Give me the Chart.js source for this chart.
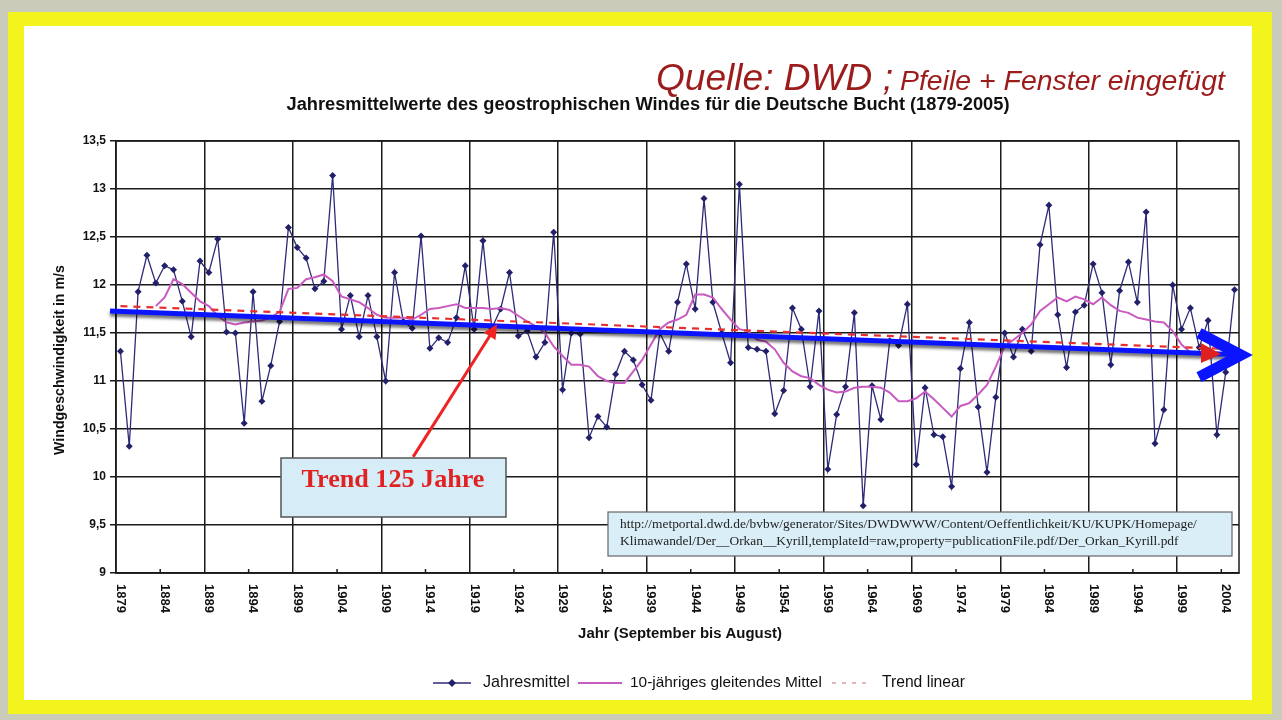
<!DOCTYPE html>
<html>
<head>
<meta charset="utf-8">
<script src="https://cdn.jsdelivr.net/npm/chart.js@4.4.1/dist/chart.umd.min.js"></script>
<style>
  html, body { margin: 0; padding: 0; background: #fff; overflow: hidden; }
  canvas { display: block; }
</style>
</head>
<body>
<canvas id="windChart" width="1282" height="720"></canvas>
<script>
// Jahre (September bis August)
const years = [
  1879, 1880, 1881, 1882, 1883, 1884, 1885, 1886, 1887, 1888,
  1889, 1890, 1891, 1892, 1893, 1894, 1895, 1896, 1897, 1898,
  1899, 1900, 1901, 1902, 1903, 1904, 1905, 1906, 1907, 1908,
  1909, 1910, 1911, 1912, 1913, 1914, 1915, 1916, 1917, 1918,
  1919, 1920, 1921, 1922, 1923, 1924, 1925, 1926, 1927, 1928,
  1929, 1930, 1931, 1932, 1933, 1934, 1935, 1936, 1937, 1938,
  1939, 1940, 1941, 1942, 1943, 1944, 1945, 1946, 1947, 1948,
  1949, 1950, 1951, 1952, 1953, 1954, 1955, 1956, 1957, 1958,
  1959, 1960, 1961, 1962, 1963, 1964, 1965, 1966, 1967, 1968,
  1969, 1970, 1971, 1972, 1973, 1974, 1975, 1976, 1977, 1978,
  1979, 1980, 1981, 1982, 1983, 1984, 1985, 1986, 1987, 1988,
  1989, 1990, 1991, 1992, 1993, 1994, 1995, 1996, 1997, 1998,
  1999, 2000, 2001, 2002, 2003, 2004, 2005
];

// Jahresmittel in m/s
const annualMean = [
  11.31, 10.32, 11.93, 12.31, 12.02, 12.20, 12.16, 11.83, 11.46, 12.25,
  12.13, 12.48, 11.51, 11.50, 10.56, 11.93, 10.79, 11.16, 11.62, 12.60,
  12.39, 12.28, 11.96, 12.04, 13.14, 11.54, 11.89, 11.46, 11.89, 11.46,
  11.00, 12.13, 11.62, 11.55, 12.51, 11.34, 11.45, 11.40, 11.66, 12.20,
  11.54, 12.46, 11.55, 11.75, 12.13, 11.47, 11.52, 11.25, 11.40, 12.55,
  10.91, 11.50, 11.49, 10.41, 10.63, 10.52, 11.07, 11.31, 11.22, 10.96,
  10.80, 11.50, 11.31, 11.82, 12.22, 11.75, 12.90, 11.82, 11.50, 11.19,
  13.05, 11.35, 11.33, 11.31, 10.66, 10.90, 11.76, 11.54, 10.94, 11.73,
  10.08, 10.65, 10.94, 11.71, 9.70, 10.95, 10.60, 11.42, 11.37, 11.80,
  10.13, 10.93, 10.44, 10.42, 9.90, 11.13, 11.61, 10.73, 10.05, 10.83,
  11.50, 11.25, 11.54, 11.31, 12.42, 12.83, 11.69, 11.14, 11.72, 11.79,
  12.22, 11.92, 11.17, 11.94, 12.24, 11.82, 12.76, 10.35, 10.70, 12.00,
  11.54, 11.76, 11.35, 11.63, 10.44, 11.09, 11.95
];

// 10-jähriges gleitendes Mittel
const movingMean = [
  null, null, null, null, 11.78, 11.87, 12.06, 12.01, 11.92, 11.83,
  11.78, 11.68, 11.61, 11.59, 11.61, 11.62, 11.63, 11.66, 11.72, 11.96,
  11.97, 12.06, 12.08, 12.11, 12.04, 11.88, 11.85, 11.82, 11.76, 11.69,
  11.66, 11.66, 11.66, 11.64, 11.69, 11.75, 11.76, 11.78, 11.80, 11.76,
  11.76, 11.76, 11.75, 11.76, 11.74, 11.68, 11.62, 11.57, 11.50, 11.36,
  11.26, 11.17, 11.17, 11.15, 11.05, 11.00, 10.98, 10.98, 11.10, 11.22,
  11.38, 11.54, 11.61, 11.64, 11.69, 11.90, 11.90, 11.87, 11.75, 11.64,
  11.54, 11.52, 11.43, 11.41, 11.33, 11.19, 11.10, 11.05, 11.03, 10.96,
  10.91, 10.88, 10.89, 10.93, 10.94, 10.94, 10.93, 10.88, 10.79, 10.79,
  10.82, 10.89, 10.81, 10.72, 10.63, 10.74, 10.77, 10.86, 10.96, 11.15,
  11.36, 11.43, 11.50, 11.59, 11.73, 11.80, 11.87, 11.83, 11.88, 11.85,
  11.80, 11.87, 11.79, 11.73, 11.71, 11.66, 11.64, 11.62, 11.61, 11.52,
  11.38, 11.30, null, null, null, null, null
];

// Trend linear: end values only
const trendStart = 11.78;
const trendEnd = 11.33;
const trendLinear = years.map((y, i) => (i === 0 ? trendStart : i === years.length - 1 ? trendEnd : null));

const xTickLabels = ['1879', '1884', '1889', '1894', '1899', '1904', '1909', '1914', '1919', '1924',
  '1929', '1934', '1939', '1944', '1949', '1954', '1959', '1964', '1969', '1974',
  '1979', '1984', '1989', '1994', '1999', '2004'];
const yTicks = [9, 9.5, 10, 10.5, 11, 11.5, 12, 12.5, 13, 13.5];

const SANS = '"Liberation Sans", Arial, sans-serif';
const SERIF = '"Liberation Serif", "Times New Roman", serif';

function fitFont(ctx, text, style, family, target) {
  ctx.font = style + ' 20px ' + family;
  const w = ctx.measureText(text).width;
  ctx.font = style + ' ' + (20 * target / w).toFixed(2) + 'px ' + family;
}

const decor = {
  id: 'decor',
  beforeDraw(chart) {
    const ctx = chart.ctx;
    ctx.save();
    ctx.fillStyle = '#cbcbb9';
    ctx.fillRect(0, 0, chart.width, chart.height);
    ctx.fillStyle = '#f3f31e';
    ctx.fillRect(8, 12, 1264, 702);
    ctx.fillStyle = '#ffffff';
    ctx.fillRect(24, 26, 1228, 674);
    ctx.restore();
  },
  beforeDatasetsDraw(chart) {
    const ctx = chart.ctx, a = chart.chartArea;
    const x = chart.scales.x;
    ctx.save();
    ctx.strokeStyle = '#1a1a1a';
    ctx.lineWidth = 1.5;
    ctx.strokeRect(a.left, a.top, a.right - a.left, a.bottom - a.top);
    // small inner ticks between gridlines
    for (let i = 5; i < years.length; i += 10) {
      const px = (x.getPixelForTick(i) + x.getPixelForTick(i - 1)) / 2;
      ctx.beginPath();
      ctx.moveTo(px, a.bottom);
      ctx.lineTo(px, a.bottom - 4);
      ctx.stroke();
    }
    ctx.restore();
  },
  afterDraw(chart) {
    const ctx = chart.ctx, a = chart.chartArea;
    const xs = chart.scales.x, ys = chart.scales.y;
    ctx.save();

    // x tick labels, rotated clockwise
    ctx.fillStyle = '#111';
    ctx.font = 'bold 13px ' + SANS;
    ctx.textAlign = 'left';
    ctx.textBaseline = 'middle';
    xTickLabels.forEach(lbl => {
      const i = years.indexOf(Number(lbl));
      const px = xs.getPixelForTick(i);
      ctx.save();
      ctx.translate(px, a.bottom + 11);
      ctx.rotate(Math.PI / 2);
      ctx.fillText(lbl, 0, 0);
      ctx.restore();
    });

    // axis titles
    ctx.textAlign = 'center';
    ctx.textBaseline = 'middle';
    fitFont(ctx, 'Jahr (September bis August)', 'bold', SANS, 204);
    ctx.fillText('Jahr (September bis August)', 680, 634);
    ctx.save();
    ctx.translate(60, 360);
    ctx.rotate(-Math.PI / 2);
    fitFont(ctx, 'Windgeschwindigkeit in m/s', 'bold', SANS, 190);
    ctx.fillText('Windgeschwindigkeit in m/s', 0, 0);
    ctx.restore();

    // chart title
    ctx.textBaseline = 'alphabetic';
    const title = 'Jahresmittelwerte des geostrophischen Windes f\u00fcr die Deutsche Bucht (1879-2005)';
    fitFont(ctx, title, 'bold', SANS, 723);
    ctx.fillText(title, 648, 110);

    // source note
    ctx.fillStyle = '#9c1c1c';
    ctx.textAlign = 'left';
    fitFont(ctx, 'Quelle: DWD ;', 'italic', SANS, 237);
    ctx.fillText('Quelle: DWD ;', 656, 90);
    fitFont(ctx, 'Pfeile + Fenster eingef\u00fcgt', 'italic', SANS, 325);
    ctx.fillText('Pfeile + Fenster eingef\u00fcgt', 900, 90);

    // legend
    const ly = 683;
    ctx.lineWidth = 1.5;
    ctx.strokeStyle = '#2e2a78';
    ctx.beginPath(); ctx.moveTo(433, ly); ctx.lineTo(471, ly); ctx.stroke();
    ctx.fillStyle = '#22206a';
    ctx.beginPath();
    ctx.moveTo(452, ly - 4); ctx.lineTo(456, ly); ctx.lineTo(452, ly + 4); ctx.lineTo(448, ly);
    ctx.closePath(); ctx.fill();
    ctx.strokeStyle = '#c85ac0';
    ctx.lineWidth = 2;
    ctx.beginPath(); ctx.moveTo(578, ly); ctx.lineTo(622, ly); ctx.stroke();
    ctx.strokeStyle = '#d8a0a0';
    ctx.lineWidth = 1.5;
    ctx.setLineDash([4, 6]);
    ctx.beginPath(); ctx.moveTo(832, ly); ctx.lineTo(872, ly); ctx.stroke();
    ctx.setLineDash([]);
    ctx.fillStyle = '#111';
    ctx.textBaseline = 'middle';
    fitFont(ctx, 'Jahresmittel', '', SANS, 87);
    ctx.fillText('Jahresmittel', 483, ly);
    fitFont(ctx, '10-j\u00e4hriges gleitendes Mittel', '', SANS, 192);
    ctx.fillText('10-j\u00e4hriges gleitendes Mittel', 630, ly);
    fitFont(ctx, 'Trend linear', '', SANS, 83);
    ctx.fillText('Trend linear', 882, ly);

    // blue arrow over the trend
    const bx0 = a.left - 6, bx1 = a.right + 6;
    const by0 = ys.getPixelForValue(11.73), by1 = ys.getPixelForValue(11.27);
    ctx.save();
    ctx.shadowColor = 'rgba(0,0,0,0.55)';
    ctx.shadowOffsetY = 3;
    ctx.shadowBlur = 3;
    ctx.strokeStyle = '#0a14ff';
    ctx.lineWidth = 5;
    ctx.beginPath();
    ctx.moveTo(bx0, by0);
    ctx.lineTo(bx1 - 6, by1 - (by1 - by0) * 6 / (bx1 - bx0));
    ctx.stroke();
    ctx.restore();
    // red wedge inside the chevron
    ctx.fillStyle = '#e02020';
    ctx.beginPath();
    ctx.moveTo(bx1 - 44, by1 - 12); ctx.lineTo(bx1 - 24, by1 - 1); ctx.lineTo(bx1 - 44, by1 + 8);
    ctx.closePath(); ctx.fill();
    ctx.strokeStyle = '#0a14ff';
    ctx.lineWidth = 11;
    ctx.lineJoin = 'miter';
    ctx.beginPath();
    ctx.moveTo(bx1 - 46, by1 - 22);
    ctx.lineTo(bx1 - 4, by1);
    ctx.lineTo(bx1 - 46, by1 + 22);
    ctx.stroke();

    // red arrow pointing at the trend
    const step = xs.getPixelForTick(1) - xs.getPixelForTick(0);
    const tx = xs.getPixelForTick(0) + step * 42.6;
    const ty = ys.getPixelForValue(11.59);
    const sx = xs.getPixelForTick(0) + step * 33.1;
    const sy = ys.getPixelForValue(10.21);
    const ang = Math.atan2(ty - sy, tx - sx);
    ctx.strokeStyle = '#ee2424';
    ctx.fillStyle = '#ee2424';
    ctx.lineWidth = 3;
    ctx.beginPath();
    ctx.moveTo(sx, sy);
    ctx.lineTo(tx - 10 * Math.cos(ang), ty - 10 * Math.sin(ang));
    ctx.stroke();
    ctx.beginPath();
    ctx.moveTo(tx, ty);
    ctx.lineTo(tx - 14 * Math.cos(ang) + 7 * Math.sin(ang), ty - 14 * Math.sin(ang) - 7 * Math.cos(ang));
    ctx.lineTo(tx - 14 * Math.cos(ang) - 7 * Math.sin(ang), ty - 14 * Math.sin(ang) + 7 * Math.cos(ang));
    ctx.closePath();
    ctx.fill();

    // "Trend 125 Jahre" box
    ctx.fillStyle = '#d6ecf6';
    ctx.fillRect(281, 458, 225, 59);
    ctx.strokeStyle = '#555';
    ctx.lineWidth = 1.5;
    ctx.strokeRect(281, 458, 225, 59);
    ctx.fillStyle = '#e02222';
    ctx.textAlign = 'center';
    ctx.textBaseline = 'alphabetic';
    fitFont(ctx, 'Trend 125 Jahre', 'bold', SERIF, 183);
    ctx.fillText('Trend 125 Jahre', 393, 487);

    // source URL box
    ctx.fillStyle = '#d9eef7';
    ctx.fillRect(608, 512, 624, 44);
    ctx.strokeStyle = '#666';
    ctx.lineWidth = 1.2;
    ctx.strokeRect(608, 512, 624, 44);
    ctx.fillStyle = '#222';
    ctx.textAlign = 'left';
    const url1 = 'http://metportal.dwd.de/bvbw/generator/Sites/DWDWWW/Content/Oeffentlichkeit/KU/KUPK/Homepage/';
    const url2 = 'Klimawandel/Der__Orkan__Kyrill,templateId=raw,property=publicationFile.pdf/Der_Orkan_Kyrill.pdf';
    fitFont(ctx, url1, '', SERIF, 577);
    ctx.fillText(url1, 620, 528);
    ctx.fillText(url2, 620, 545);

    ctx.restore();
  }
};

const ctx = document.getElementById('windChart').getContext('2d');
new Chart(ctx, {
  type: 'line',
  data: {
    labels: years,
    datasets: [
      {
        label: 'Trend linear',
        data: trendLinear,
        borderColor: '#e63030',
        borderWidth: 2.2,
        borderDash: [7, 6],
        pointRadius: 0,
        spanGaps: true,
        order: 1
      },
      {
        label: '10-j\u00e4hriges gleitendes Mittel',
        data: movingMean,
        borderColor: '#c85ac0',
        borderWidth: 2,
        pointRadius: 0,
        order: 2
      },
      {
        label: 'Jahresmittel',
        data: annualMean,
        borderColor: '#2e2a78',
        borderWidth: 1.3,
        pointStyle: 'rectRot',
        pointRadius: 3.5,
        pointBackgroundColor: '#22206a',
        pointBorderColor: '#22206a',
        pointBorderWidth: 0,
        order: 3
      }
    ]
  },
  options: {
    responsive: false,
    animation: false,
    layout: { padding: { left: 0, right: 43, top: 141, bottom: 0 } },
    plugins: {
      legend: { display: false },
      title: { display: false },
      tooltip: { enabled: false }
    },
    scales: {
      x: {
        type: 'category',
        offset: true,
        grid: {
          offset: true,
          drawTicks: false,
          lineWidth: 1.5,
          color: c => (c.index > 0 && c.index % 10 === 0 ? '#1a1a1a' : 'rgba(0,0,0,0)')
        },
        border: { color: '#1a1a1a', width: 1.5 },
        ticks: { display: false },
        afterFit: s => { s.height = 147; }
      },
      y: {
        min: 9,
        max: 13.5,
        afterBuildTicks: s => { s.ticks = yTicks.map(v => ({ value: v })); },
        grid: { color: '#1a1a1a', lineWidth: 1.5, tickLength: 6, tickColor: '#1a1a1a' },
        border: { color: '#1a1a1a', width: 1.5 },
        ticks: {
          color: '#111',
          padding: 4,
          font: { family: SANS, weight: 'bold', size: 12 },
          callback: v => String(v).replace('.', ',')
        },
        afterFit: s => { s.width = 116; }
      }
    }
  },
  plugins: [decor]
});
</script>
</body>
</html>
